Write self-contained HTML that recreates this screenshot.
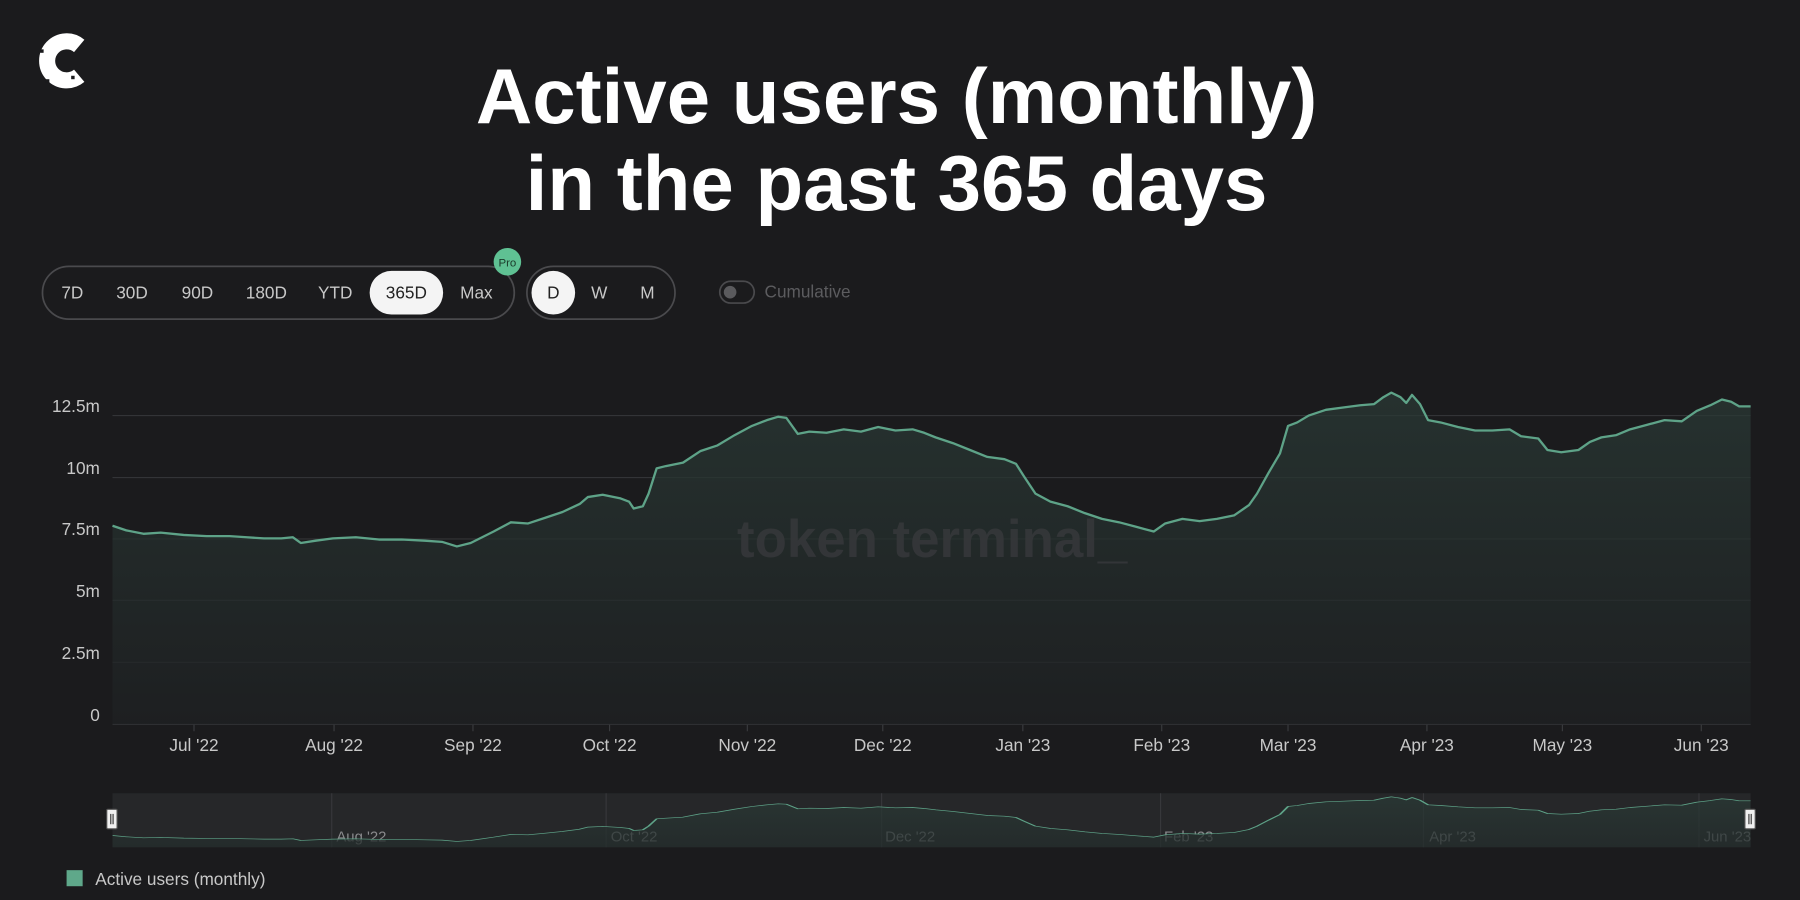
<!DOCTYPE html>
<html><head><meta charset="utf-8"><style>
html,body{margin:0;padding:0;background:#1b1b1d;}
svg{display:block}
text{font-family:"Liberation Sans",sans-serif}
</style></head><body>
<svg width="1800" height="900" viewBox="0 0 1568 784" xmlns="http://www.w3.org/2000/svg">
<defs>
<linearGradient id="g" x1="0" y1="0" x2="0" y2="1">
<stop offset="0" stop-color="#2a3a36" stop-opacity="0.85"/>
<stop offset="1" stop-color="#1e2022" stop-opacity="0.9"/>
</linearGradient>
<clipPath id="nav"><rect x="98" y="691" width="1427" height="47"/></clipPath>
</defs>
<rect width="1568" height="784" fill="#1b1b1d"/>
<!-- logo -->
<path d="M69 40 A17 17 0 1 0 69 66" fill="none" stroke="#fff" stroke-width="14"/>
<rect x="35" y="43" width="3" height="3" fill="#1b1b1d"/><rect x="62" y="66" width="3" height="3" fill="#1b1b1d"/><rect x="40" y="69" width="3" height="3" fill="#1b1b1d"/>
<!-- title -->
<text x="781" y="107" text-anchor="middle" font-size="68" font-weight="bold" fill="#fff">Active users (monthly)</text>
<text x="781" y="183" text-anchor="middle" font-size="68" font-weight="bold" fill="#fff">in the past 365 days</text>
<!-- buttons -->
<rect x="37" y="232" width="411" height="46" rx="23" fill="none" stroke="#4a4a4d" stroke-width="1.5"/>
<rect x="322" y="236" width="64" height="38" rx="19" fill="#f4f4f4"/>
<g font-size="15" fill="#c8c8c8" text-anchor="middle">
<text x="63" y="260">7D</text><text x="115" y="260">30D</text><text x="172" y="260">90D</text><text x="232" y="260">180D</text><text x="292" y="260">YTD</text><text x="354" y="260" fill="#222">365D</text><text x="415" y="260">Max</text>
</g>
<circle cx="442" cy="228" r="12" fill="#5fc193"/>
<text x="442" y="232" font-size="10" fill="#1b3a2a" text-anchor="middle">Pro</text>
<rect x="459" y="232" width="129" height="46" rx="23" fill="none" stroke="#4a4a4d" stroke-width="1.5"/>
<circle cx="482" cy="255" r="19" fill="#f4f4f4"/>
<g font-size="15" fill="#c8c8c8" text-anchor="middle">
<text x="482" y="260" fill="#222">D</text><text x="522" y="260">W</text><text x="564" y="260">M</text>
</g>
<rect x="627" y="245" width="30" height="19" rx="9.5" fill="none" stroke="#4a4a4d" stroke-width="1.5"/>
<circle cx="636" cy="254.5" r="5.5" fill="#5a5a5d"/>
<text x="666" y="259" font-size="15" fill="#5c5c5f">Cumulative</text>
<!-- grid -->
<g stroke="#333437" stroke-width="1">
<line x1="98" y1="362" x2="1525" y2="362"/><line x1="98" y1="416" x2="1525" y2="416"/><line x1="98" y1="469.5" x2="1525" y2="469.5"/><line x1="98" y1="523" x2="1525" y2="523"/><line x1="98" y1="577" x2="1525" y2="577"/><line x1="98" y1="631" x2="1525" y2="631" stroke="#3a3b3e"/>
</g>
<g font-size="15" fill="#c8c8c8" text-anchor="end">
<text x="87" y="359">12.5m</text><text x="87" y="413">10m</text><text x="87" y="466">7.5m</text><text x="87" y="520">5m</text><text x="87" y="574">2.5m</text><text x="87" y="628">0</text>
</g>
<g stroke="#3a3b3e"><line x1="169" y1="631" x2="169" y2="637"/><line x1="291" y1="631" x2="291" y2="637"/><line x1="412" y1="631" x2="412" y2="637"/><line x1="531" y1="631" x2="531" y2="637"/><line x1="651" y1="631" x2="651" y2="637"/><line x1="769" y1="631" x2="769" y2="637"/><line x1="891" y1="631" x2="891" y2="637"/><line x1="1012" y1="631" x2="1012" y2="637"/><line x1="1122" y1="631" x2="1122" y2="637"/><line x1="1243" y1="631" x2="1243" y2="637"/><line x1="1361" y1="631" x2="1361" y2="637"/><line x1="1482" y1="631" x2="1482" y2="637"/></g>
<g font-size="15" fill="#c8c8c8" text-anchor="middle">
<text x="169" y="654">Jul '22</text><text x="291" y="654">Aug '22</text><text x="412" y="654">Sep '22</text><text x="531" y="654">Oct '22</text><text x="651" y="654">Nov '22</text><text x="769" y="654">Dec '22</text><text x="891" y="654">Jan '23</text><text x="1012" y="654">Feb '23</text><text x="1122" y="654">Mar '23</text><text x="1243" y="654">Apr '23</text><text x="1361" y="654">May '23</text><text x="1482" y="654">Jun '23</text>
</g>
<g id="series">
<path id="area" fill="url(#g)" opacity="0.85" d="M98,631 L98,458 L110,462 L125,465 L140,464 L160,466 L180,467 L200,467 L215,468 L230,469 L245,469 L255,468 L262,473 L275,471 L290,469 L310,468 L330,470 L350,470 L370,471 L385,472 L398,476 L410,473 L420,468 L430,463 L445,455 L460,456 L475,451 L490,446 L505,439 L512,433 L525,431 L540,434 L548,437 L552,443 L560,441 L565,430 L572,408 L580,406 L595,403 L610,393 L625,388 L640,379 L655,371 L668,366 L678,363 L685,364 L695,378 L705,376 L720,377 L735,374 L750,376 L765,372 L780,375 L795,374 L805,377 L815,381 L830,386 L845,392 L860,398 L875,400 L885,404 L892,415 L902,430 L915,437 L930,441 L945,447 L960,452 L975,455 L990,459 L1005,463 L1015,456 L1030,452 L1045,454 L1060,452 L1075,449 L1088,440 L1095,430 L1105,412 L1115,395 L1122,371 L1130,368 L1140,362 L1155,357 L1170,355 L1185,353 L1197,352 L1205,346 L1212,342 L1220,346 L1225,351 L1230,344 L1237,352 L1244,366 L1255,368 L1270,372 L1285,375 L1300,375 L1315,374 L1325,380 L1340,382 L1348,392 L1360,394 L1375,392 L1385,385 L1395,381 L1408,379 L1420,374 L1435,370 L1450,366 L1465,367 L1478,358 L1490,353 L1500,348 L1508,350 L1515,354 L1525,354 L1525,631 Z"/>
<path fill="none" stroke="#5ea388" stroke-width="2" stroke-linejoin="round" d="M98,458 L110,462 L125,465 L140,464 L160,466 L180,467 L200,467 L215,468 L230,469 L245,469 L255,468 L262,473 L275,471 L290,469 L310,468 L330,470 L350,470 L370,471 L385,472 L398,476 L410,473 L420,468 L430,463 L445,455 L460,456 L475,451 L490,446 L505,439 L512,433 L525,431 L540,434 L548,437 L552,443 L560,441 L565,430 L572,408 L580,406 L595,403 L610,393 L625,388 L640,379 L655,371 L668,366 L678,363 L685,364 L695,378 L705,376 L720,377 L735,374 L750,376 L765,372 L780,375 L795,374 L805,377 L815,381 L830,386 L845,392 L860,398 L875,400 L885,404 L892,415 L902,430 L915,437 L930,441 L945,447 L960,452 L975,455 L990,459 L1005,463 L1015,456 L1030,452 L1045,454 L1060,452 L1075,449 L1088,440 L1095,430 L1105,412 L1115,395 L1122,371 L1130,368 L1140,362 L1155,357 L1170,355 L1185,353 L1197,352 L1205,346 L1212,342 L1220,346 L1225,351 L1230,344 L1237,352 L1244,366 L1255,368 L1270,372 L1285,375 L1300,375 L1315,374 L1325,380 L1340,382 L1348,392 L1360,394 L1375,392 L1385,385 L1395,381 L1408,379 L1420,374 L1435,370 L1450,366 L1465,367 L1478,358 L1490,353 L1500,348 L1508,350 L1515,354 L1525,354"/>
</g>
<text x="812" y="485" text-anchor="middle" font-size="46" font-weight="bold" fill="#38393c" opacity="0.8">token terminal_</text>
<!-- navigator -->
<rect x="98" y="691" width="1427" height="47" fill="#262729"/>
<g stroke="#37383b"><line x1="289" y1="691" x2="289" y2="738"/><line x1="528" y1="691" x2="528" y2="738"/><line x1="768" y1="691" x2="768" y2="738"/><line x1="1011" y1="691" x2="1011" y2="738"/><line x1="1240" y1="691" x2="1240" y2="738"/><line x1="1480" y1="691" x2="1480" y2="738"/></g>
<g font-size="13" fill="#8a8a8d">
<text x="293" y="733">Aug '22</text><text x="532" y="733">Oct '22</text><text x="771" y="733">Dec '22</text><text x="1014" y="733">Feb '23</text><text x="1245" y="733">Apr '23</text><text x="1484" y="733">Jun '23</text>
</g>
<g clip-path="url(#nav)">
<g transform="translate(0,594.96) scale(1,0.29)">
<use href="#series"/>
</g>
</g>
<rect x="93" y="705" width="9" height="17" rx="1" fill="#f0f0f0" stroke="#555"/>
<line x1="96.5" y1="709" x2="96.5" y2="718" stroke="#333"/><line x1="98.5" y1="709" x2="98.5" y2="718" stroke="#333"/>
<rect x="1520" y="705" width="9" height="17" rx="1" fill="#f0f0f0" stroke="#555"/>
<line x1="1523.5" y1="709" x2="1523.5" y2="718" stroke="#333"/><line x1="1525.5" y1="709" x2="1525.5" y2="718" stroke="#333"/>
<!-- legend -->
<rect x="58" y="758" width="14" height="14" fill="#5fa88a"/>
<text x="83" y="771" font-size="15" fill="#c8c8c8">Active users (monthly)</text>
</svg>
</body></html>
